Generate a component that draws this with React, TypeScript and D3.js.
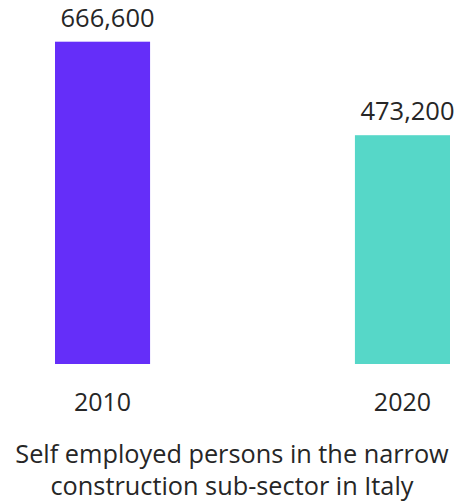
import React from "react";
import * as d3 from "d3";

const years = ["2010", "2020"];
const values = [666600, 473200];
const colors = ["#652EF9", "#56D7C8"];
const captionLines = [
  "Self employed persons in the narrow",
  "construction sub-sector in Italy",
];

const W = 464;
const H = 501;
const FONT = "'Open Sans', sans-serif";
const TEXT = "#262626";

export default function App() {
  const x = d3
    .scaleBand<string>()
    .domain(years)
    .range([55, 450])
    .paddingInner(0.683)
    .paddingOuter(0);
  const y = d3.scaleLinear().domain([0, d3.max(values) as number]).range([364, 41.7]);
  const fmt = d3.format(",");

  return (
    <svg
      width={W}
      height={H}
      style={{ position: "absolute", left: 0, top: 0, background: "#fff" }}
      fontFamily={FONT}
    >
      {years.map((yr, i) => {
        const bx = x(yr) as number;
        const bw = x.bandwidth();
        const top = y(values[i]);
        return (
          <g key={yr}>
            <rect x={bx} y={top} width={bw} height={y(0) - top} fill={colors[i]} />
            <text
              x={bx + bw / 2 + 5}
              y={top - 15}
              textAnchor="middle"
              fontSize={25.5}
              fill={TEXT}
            >
              {fmt(values[i])}
            </text>
            <text x={bx + bw / 2} y={411} textAnchor="middle" fontSize={25} fill={TEXT}>
              {yr}
            </text>
          </g>
        );
      })}
      {captionLines.map((line, i) => (
        <text key={i} x={W / 2} y={463 + i * 32} textAnchor="middle" fontSize={25.3} fill={TEXT}>
          {line}
        </text>
      ))}
    </svg>
  );
}
